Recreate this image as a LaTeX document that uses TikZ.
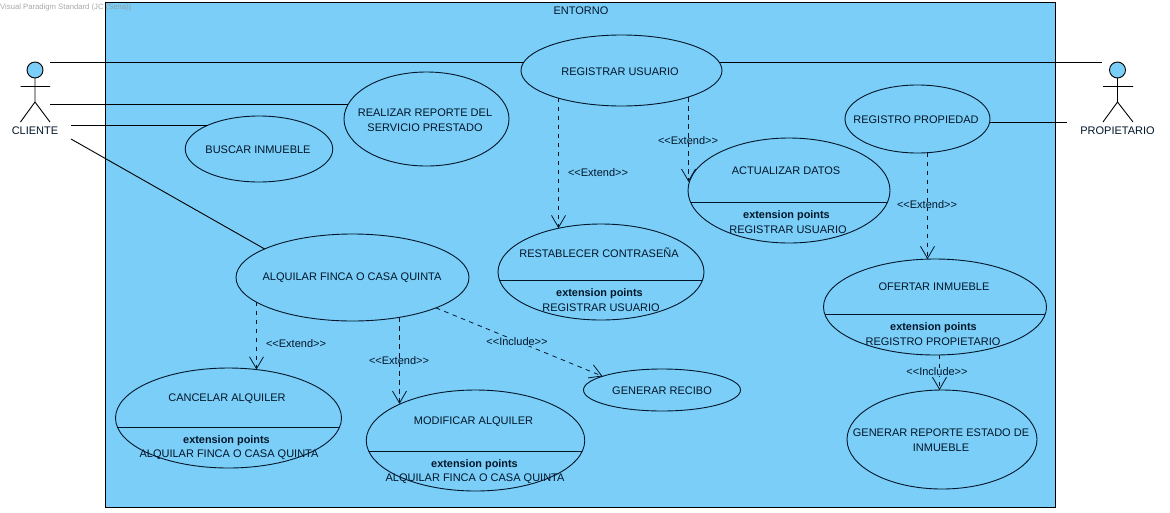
\documentclass[tikz,border=0pt]{standalone}
\usepackage{fontspec}
\setmainfont{Liberation Sans}
\usetikzlibrary{shapes.geometric,arrows.meta}
\definecolor{sys}{RGB}{122,206,247}
\definecolor{ink}{RGB}{2,22,42}
\tikzset{
  x=1pt,y=-1pt,
  uc/.style={ellipse,draw=ink,fill=sys,line width=0.9pt,inner sep=0pt,outer sep=0pt},
  txt/.style={font=\fontsize{11}{15}\selectfont,text=ink,inner sep=0pt,align=center,xshift=1pt,yshift=-1pt},
  boldtxt/.style={font=\fontsize{10.9}{15}\selectfont\bfseries,text=ink,inner sep=0pt,xshift=0.5pt,yshift=-2pt},
  lab/.style={font=\fontsize{11}{12}\selectfont,text=ink,inner sep=0pt,yshift=-1pt},
  assoc/.style={draw=black,line width=0.9pt},
  dep/.style={draw=ink,line width=0.8pt,dash pattern=on 4.5pt off 4.5pt,-{Straight Barb[length=12pt,width=14pt,line width=0.8pt]}},
  stick/.style={draw=black,line width=0.9pt},
  head/.style={circle,draw=black,fill=sys,line width=0.9pt,minimum size=16pt,inner sep=0pt,outer sep=0pt},
  compart/.style={path picture={\draw[ink,line width=0.9pt] (-500,#1) -- (500,#1);}}
}
\begin{document}
\begin{tikzpicture}
\useasboundingbox (0,0) rectangle (1170,512);
\fill[white] (0,0) rectangle (1170,512);
\draw[black,fill=sys,line width=1pt] (105.5,2.5) rectangle (1055.5,507.5);
\node[anchor=west,inner sep=0pt,text=gray!85,opacity=0.8,font=\fontsize{7.7}{9}\selectfont] (wm) at (0,8) {Visual Paradigm Standard (JC (Sena))};
\node[txt] (entorno) at (580,10) {ENTORNO};

% use cases
\node[uc,minimum width=201pt,minimum height=71pt] (reg) at (621.5,70.5) {};
\node[uc,minimum width=165pt,minimum height=94pt] (rep) at (426.5,119) {};
\node[uc,minimum width=147.5pt,minimum height=66pt] (bus) at (259,149) {};
\node[uc,minimum width=233pt,minimum height=87pt] (alq) at (352.5,277.5) {};
\node[uc,minimum width=206pt,minimum height=96pt,compart=8.5] (res) at (601,272) {};
\node[uc,minimum width=202pt,minimum height=105pt,compart=12] (act) at (789,190.5) {};
\node[uc,minimum width=145pt,minimum height=68pt] (rpr) at (917.5,119) {};
\node[uc,minimum width=223pt,minimum height=96pt,compart=7.5] (ofe) at (935,307) {};
\node[uc,minimum width=190pt,minimum height=99pt] (gen) at (942,439.5) {};
\node[uc,minimum width=157pt,minimum height=42pt] (rec) at (662,390) {};
\node[uc,minimum width=226pt,minimum height=100pt,compart=9.5] (can) at (228.5,418) {};
\node[uc,minimum width=218.5pt,minimum height=101pt,compart=11] (mod) at (475.5,440.5) {};

% use case texts
\node[txt] (treg) at (619,71) {REGISTRAR USUARIO};
\node[txt] (trep) at (424,119.5) {REALIZAR REPORTE DEL\\SERVICIO PRESTADO};
\node[txt] (tbus) at (257,149) {BUSCAR INMUEBLE};
\node[txt] (talq) at (351,277) {ALQUILAR FINCA O CASA QUINTA};
\node[txt] (tact) at (785,170) {ACTUALIZAR DATOS};
\node[boldtxt] (xact) at (786,214) {extension points};
\node[txt] (pact) at (787,229) {REGISTRAR USUARIO};
\node[txt] (tres) at (598,252) {RESTABLECER CONTRASEÑA};
\node[boldtxt] (xres) at (599,292) {extension points};
\node[txt] (pres) at (600,307) {REGISTRAR USUARIO};
\node[txt] (trpr) at (915,119) {REGISTRO PROPIEDAD};
\node[txt] (tofe) at (933,286) {OFERTAR INMUEBLE};
\node[boldtxt] (xofe) at (933,326) {extension points};
\node[txt] (pofe) at (932,341) {REGISTRO PROPIETARIO};
\node[txt] (tgen) at (940,439.5) {GENERAR REPORTE ESTADO DE\\INMUEBLE};
\node[txt] (trec) at (661,390) {GENERAR RECIBO};
\node[txt] (tcan) at (226,398) {CANCELAR ALQUILER};
\node[boldtxt] (xcan) at (226,439) {extension points};
\node[txt] (pcan) at (228,454) {ALQUILAR FINCA O CASA QUINTA};
\node[txt] (tmod) at (472.5,421) {MODIFICAR ALQUILER};
\node[boldtxt] (xmod) at (474,463) {extension points};
\node[txt] (pmod) at (474,478) {ALQUILAR FINCA O CASA QUINTA};

% actors
\node[head] (cli) at (35,70) {};
\draw[stick] (cli.south) -- (35,102) (20.5,86.5) -- (50,86.5) (20.5,122) -- (35,102) -- (50,122);
\node[txt] (tcli) at (34,130) {CLIENTE};
\node[head] (pro) at (1117.5,70) {};
\draw[stick] (pro.south) -- (1117.5,102) (1103,86.5) -- (1133,86.5) (1103,122) -- (1117.5,102) -- (1133,122);
\node[txt] (tpro) at (1116.5,130) {PROPIETARIO};

% free ends of associations
\coordinate (c1) at (50,62.5);
\coordinate (c2) at (50,104.5);
\coordinate (c3) at (71,125.5);
\coordinate (c4) at (71,139);
\coordinate (p1) at (1102,62.5);
\coordinate (p2) at (1067,122.5);
% vertical runs of the dependencies
\coordinate (d1) at (558.5,0);
\coordinate (d2) at (688.5,0);
\coordinate (d3) at (927.5,0);
\coordinate (d4) at (939.5,0);
\coordinate (d5) at (256.5,0);
\coordinate (d6) at (399.5,0);

% associations
\draw[assoc] (c1) -- (reg.175 |- c1);
\draw[assoc] (reg.5 |- p1) -- (p1);
\draw[assoc] (c2) -- (rep.169.1 |- c2);
\draw[assoc] (c3) -- (bus.155.6 |- c3);
\draw[assoc] (c4) -- (alq.162.7);
\draw[assoc] (rpr.357.6 |- p2) -- (p2);

% dependencies
\draw[dep] (reg.203.4 -| d1) -- (res.134.6 -| d1);
\draw[dep] (reg.338.2 -| d2) -- (act.175.1 -| d2);
\draw[dep] (rpr.285.7 -| d3) -- (ofe.99.5 -| d3);
\draw[dep] (ofe.274.8 -| d4) -- (gen.93.5 -| d4);
\draw[dep] (alq.194.2 -| d5) -- (can.60 -| d5);
\draw[dep] (alq.319.7 -| d6) -- (mod.154.5 -| d6);
\draw[dep] (alq.340.5) -- (rec.167.4);

% dependency labels
\node[lab] (l1) at (598,172) {<{}<Extend>{}>};
\node[lab] (l2) at (688,140) {<{}<Extend>{}>};
\node[lab] (l3) at (927,204) {<{}<Extend>{}>};
\node[lab,fill=sys] (l4) at (937,371) {<{}<Include>{}>};
\node[lab] (l5) at (296,343) {<{}<Extend>{}>};
\node[lab] (l6) at (399,360) {<{}<Extend>{}>};
\node[lab,fill=sys] (l7) at (517,341) {<{}<Include>{}>};
\end{tikzpicture}
\end{document}
